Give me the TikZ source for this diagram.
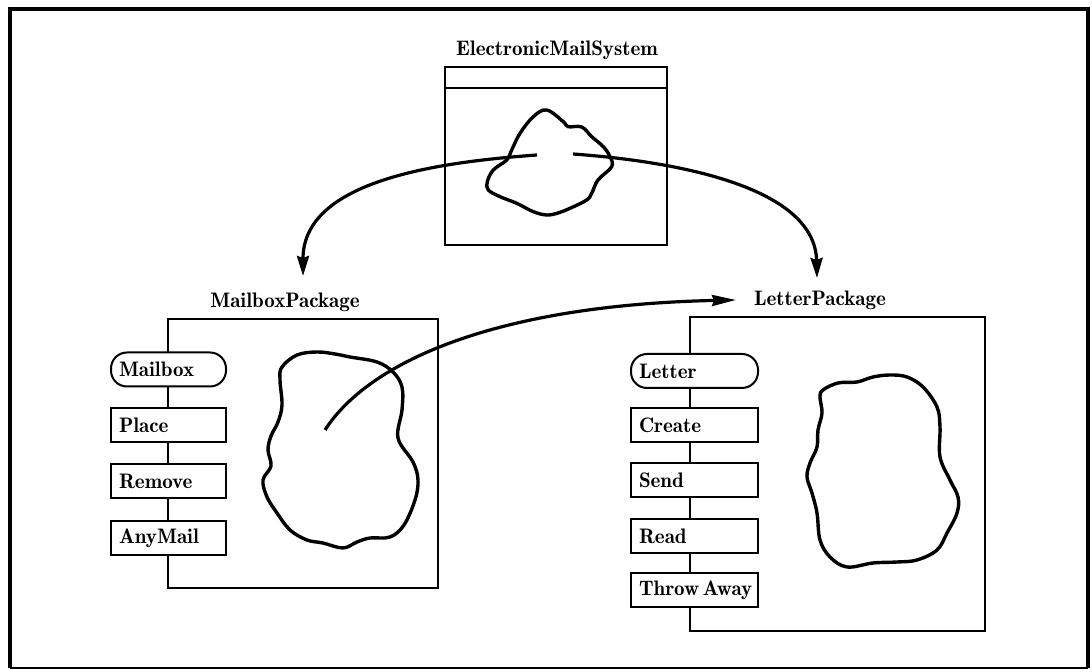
\documentclass[tikz,border=0pt]{standalone}
\usetikzlibrary{arrows.meta}
\begin{document}
\begin{tikzpicture}[x=0.5pt,y=-0.5pt,
  lbl/.style={font=\fontseries{b}\fontsize{10.5}{12}\selectfont, inner sep=0pt},
  pkgbox/.style={draw, line width=1pt, inner sep=0pt},
  opbox/.style={draw, fill=white, line width=1pt, minimum height=17pt,
    inner xsep=4pt, inner ysep=0pt, align=left, anchor=west,
    font=\fontseries{b}\fontsize{10.5}{12}\selectfont},
  mop/.style={opbox, text width=49.5pt},
  lop/.style={opbox, text width=55.5pt},
  typebox/.style={rounded corners=8pt},
  blob/.style={draw, line width=1.7pt, line join=round},
  flow/.style={draw, line width=1.6pt, -{Stealth[length=10pt,width=6pt,inset=1pt]}},
  flowlong/.style={draw, line width=1.6pt, -{Stealth[length=12pt,width=5.5pt,inset=1pt]}}]

\useasboundingbox (0,0) rectangle (1092,672);

% outer frame
\draw[line width=2.2pt, line join=miter] (10,668) -- (10,9) -- (1088,9) -- (1088,668);
\draw[line width=1pt] (10,668) -- (1088,668);

% ---------- ElectronicMailSystem ----------
\node[lbl] (emsLabel) at (557,50) {ElectronicMailSystem};
\node[pkgbox, minimum width=111pt, minimum height=89pt] (ems) at (556,156) {};
\draw[line width=1pt] (ems.north west) ++(0,22) -- ++(222,0);
\draw[blob] plot[smooth cycle, tension=0.6] coordinates {
  (546.7,110) (563.3,121.7) (568,126.7) (581.7,127) (591.7,136.7) (603.3,146.7)
  (610,156.7) (611.7,166.7) (598,180) (591.7,193.3) (586.7,200) (570,208.3)
  (558,213) (546.7,215) (533.3,211.7) (516.7,203.3) (500,196.7) (488.3,190)
  (487.3,181.7) (493.3,170) (506.7,160) (511.7,150) (520,133.3) (533.3,116.7)};

% ---------- MailboxPackage ----------
\node[lbl] (mpLabel) at (285,302) {MailboxPackage};
\node[pkgbox, minimum width=135pt, minimum height=134.5pt] (mp) at (303,453.5) {};
\node[mop, typebox] (mailbox) at (110,369.5) {Mailbox};
\node[mop] (place)   at (110,425)   {Place};
\node[mop] (remove)  at (110,481.5) {Remove};
\node[mop] (anymail) at (110,538.5) {AnyMail};
\draw[blob] plot[smooth cycle, tension=0.6] coordinates {
  (282,367) (297,355) (317,352) (335,354) (350,357) (377,362) (393,372)
  (402,387) (402,410) (398,438) (413,462) (418,480) (415,500) (404,525)
  (390,537) (370,538) (357,542) (343,548) (323,543) (307,540) (290,530)
  (277,513) (267,497) (263,480) (271,466) (268,450) (271,436) (278,422)
  (282,405) (280,380)};

% ---------- LetterPackage ----------
\node[lbl] (lpLabel) at (820,300) {LetterPackage};
\node[pkgbox, minimum width=147.5pt, minimum height=157pt] (lp) at (837.5,474) {};
\node[lop, typebox] (letter) at (630,371) {Letter};
\node[lop] (create)    at (630,425)   {Create};
\node[lop] (send)      at (630,480)   {Send};
\node[lop] (read)      at (630,536.5) {Read};
\node[lop] (throwaway) at (630,590.5) {Throw\,Away};
\draw[blob] plot[smooth cycle, tension=0.6] coordinates {
  (823,390) (838,383) (857,382) (873,377) (890,375) (907,377) (923,387)
  (937,407) (940,427) (940,457) (950,480) (958,497) (957,513) (947,533)
  (937,550) (917,560) (897,562) (873,563) (847,567) (830,557) (820,540)
  (817,513) (812,493) (807,477) (810,463) (817,447) (818,430) (822,413)
  (820,397)};

% ---------- dependency arrows ----------
\coordinate (emsOutL) at (537,155);
\coordinate (emsOutR) at (573,154);
\coordinate (mpIn)    at (303,276);
\coordinate (lpIn)    at (817,278);
\coordinate (mpOut)   at (325,430);
\coordinate (lpSide)  at (736,300);

\path[flow] (emsOutL) .. controls (440,162) and (303,180) .. (mpIn);
\path[flow] (emsOutR) .. controls (670,161) and (815,185) .. (lpIn);
\path[flowlong] (mpOut) .. controls (370,360) and (500,305) .. (lpSide);

\end{tikzpicture}
\end{document}
